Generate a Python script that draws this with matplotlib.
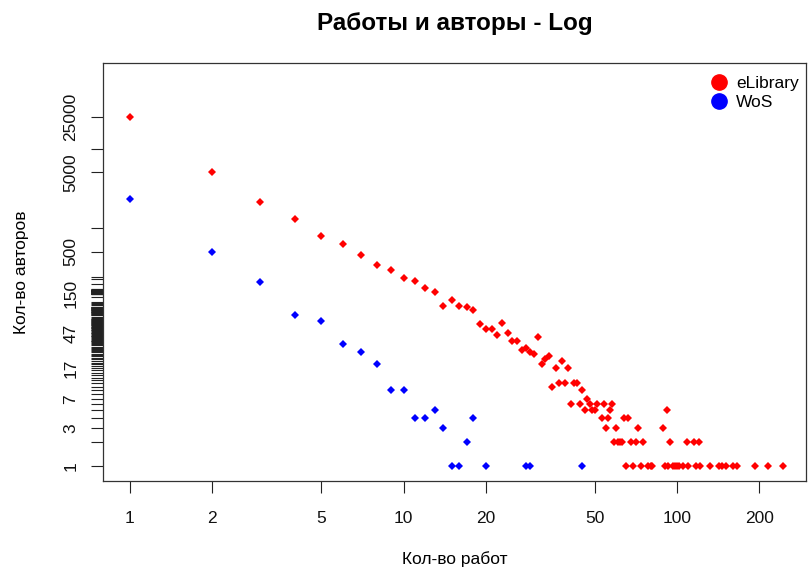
import matplotlib
matplotlib.use('Agg')
import matplotlib.pyplot as plt
from matplotlib.lines import Line2D

plt.rcParams['font.family'] = ['Liberation Sans', 'DejaVu Sans']

# Number of papers per author (x) vs number of authors with that many papers (y)
elib_x = [1, 2, 3, 4, 5, 6, 7, 8, 9, 10, 11, 12, 13, 14, 15, 16, 17, 18, 19, 20,
          21, 22, 23, 24, 25, 26, 27, 28, 29, 30, 31, 32, 33, 34, 35, 36, 37, 38, 39, 40,
          41, 42, 43, 44, 45, 46, 47, 48, 49, 50, 51, 53, 54, 55, 56, 57, 58, 59, 60, 61,
          62, 63, 64, 65, 66, 68, 69, 71, 72, 74, 75, 78, 80, 81, 89, 90, 92, 93, 94, 97,
          98, 100, 102, 105, 109, 110, 115, 117, 120, 121, 132, 142, 146, 151, 160, 166,
          193, 215, 243]
elib_y = [25000, 5080, 2115, 1290, 795, 630, 455, 340, 296, 237, 215, 177, 155, 104, 124,
          105, 102, 92, 62, 53, 53, 45, 64, 48, 38, 37, 29, 31, 27, 26, 42, 19, 22, 24, 10,
          17, 11, 21, 11, 17, 6, 11, 11, 6, 9, 5, 7, 6, 5, 5, 6, 4, 6, 3, 4, 5, 6, 2, 3, 2,
          2, 2, 4, 1, 4, 2, 1, 2, 3, 1, 2, 1, 1, 1, 3, 1, 5, 1, 2, 1,
          1, 1, 1, 1, 2, 1, 2, 1, 2, 1, 1, 1, 1, 1, 1, 1,
          1, 1, 1]

wos_x = [1, 2, 3, 4, 5, 6, 7, 8, 9, 10, 11, 12, 13, 14, 15, 16, 17, 18, 20, 28, 29, 45]
wos_y = [2300, 500, 207, 80, 67, 34, 27, 19, 9, 9, 4, 4, 5, 3, 1, 1, 2, 4, 1, 1, 1, 1]

x_ticks = [1, 2, 5, 10, 20, 50, 100, 200]
y_labeled = [1, 3, 7, 17, 47, 150, 500, 5000, 25000]
# unlabeled ticks (labels dropped where they would overlap)
y_extra = ([2, 4, 5, 6, 8, 9, 10, 11, 12, 13, 14, 15, 16]
           + list(range(18, 47)) + list(range(48, 74))
           + [76] + list(range(80, 103)) + [107, 110, 113, 118, 133]
           + list(range(146, 150)) + list(range(151, 170))
           + [196, 226, 244, 1000, 10000])

fig = plt.figure(figsize=(8.08, 5.67), dpi=100)
ax = fig.add_axes([103 / 808, 1 - 481 / 567, 703 / 808, 418 / 567])

ax.plot(elib_x, elib_y, linestyle='none', marker='D', markersize=4.3,
        color='#ff0000', markeredgewidth=0)
ax.plot(wos_x, wos_y, linestyle='none', marker='D', markersize=4.3,
        color='#0000ff', markeredgewidth=0)

ax.set_xscale('log')
ax.set_yscale('log')
ax.set_xlim(0.797, 296)
ax.set_ylim(0.645, 120000)

ax.set_xticks(x_ticks)
ax.set_xticklabels([str(v) for v in x_ticks])
ax.set_yticks(y_labeled)
ax.set_yticklabels([str(v) for v in y_labeled], rotation=90, va='center')
ax.set_yticks(y_extra, minor=True)
ax.xaxis.set_minor_locator(matplotlib.ticker.NullLocator())
ax.yaxis.set_minor_formatter(matplotlib.ticker.NullFormatter())

ax.tick_params(axis='both', which='both', direction='out', length=8.6, width=0.8,
               color='#222222', labelsize=12.5, labelcolor='#111111')
ax.tick_params(axis='x', pad=13)
ax.tick_params(axis='y', pad=9)

for sp in ax.spines.values():
    sp.set_linewidth(0.9)
    sp.set_color('#333333')

ax.set_title('Работы и авторы - Log', fontsize=17.5, fontweight='bold', pad=23.5)
ax.set_xlabel('Кол-во работ', fontsize=12.5, labelpad=18)
ax.set_ylabel('Кол-во авторов', fontsize=12.5, labelpad=25)

handles = [Line2D([], [], linestyle='none', marker='o', markersize=11,
                  color='#ff0000', label='eLibrary'),
           Line2D([], [], linestyle='none', marker='o', markersize=11,
                  color='#0000ff', label='WoS')]
ax.legend(handles=handles, loc='upper right', frameon=False, fontsize=12.5,
          handlelength=1.0, handletextpad=0.5, labelspacing=0.2,
          borderaxespad=0.0, bbox_to_anchor=(1.0, 0.985))

fig.savefig('out.png', dpi=100)
